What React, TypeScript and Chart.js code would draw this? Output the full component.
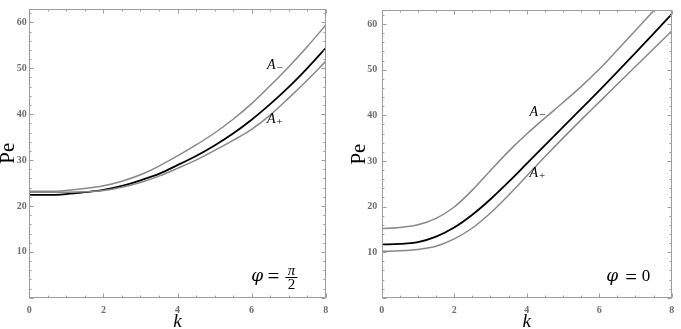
import React, { useEffect, useRef } from "react";
import { Chart, registerables } from "chart.js";

Chart.register(...registerables);

// ---- data ----
const kValues = [0, 0.5, 1, 1.5, 2, 2.5, 3, 3.5, 4, 4.5, 5, 5.5, 6, 6.5, 7, 7.5, 8];

// phi = pi/2 panel
const halfPiAMinus = [23.2, 23.2, 23.4, 23.8, 24.4, 25.4, 26.8, 28.7, 30.9, 33.3, 35.9, 38.9, 42.3, 46.2, 50.3, 54.7, 59.4];
const halfPiCenter = [22.4, 22.4, 22.6, 23.0, 23.5, 24.4, 25.6, 27.0, 28.9, 30.9, 33.2, 35.8, 38.8, 42.2, 45.9, 50.0, 54.4];
const halfPiAPlus = [23.0, 23.0, 23.0, 23.1, 23.4, 24.1, 25.1, 26.5, 28.2, 30.0, 32.1, 34.3, 36.7, 39.8, 43.5, 47.4, 51.5];

// phi = 0 panel
const zeroAMinus = [15.2, 15.4, 16.0, 17.4, 19.9, 23.6, 27.9, 32.1, 35.9, 39.4, 42.8, 46.3, 50.1, 54.3, 58.6, 62.9, 67.2];
const zeroCenter = [11.7, 11.8, 12.2, 13.4, 15.4, 18.2, 21.6, 25.4, 29.4, 33.4, 37.4, 41.4, 45.4, 49.5, 53.7, 57.9, 62.2];
const zeroAPlus = [10.2, 10.3, 10.6, 11.3, 12.9, 15.3, 18.6, 22.5, 26.7, 30.9, 35.0, 39.0, 42.9, 46.8, 50.7, 54.6, 58.5];

const xTickLabels = [0, 2, 4, 6, 8];
const yTickLabels = [10, 20, 30, 40, 50, 60];
const xRange = [0, 8];
const yRange = [0, 63];

const SERIF = '"Liberation Serif", "DejaVu Serif", serif';
const GREEK = '"DejaVu Serif", "Liberation Serif", serif';

type CurveLabel = { k: number; pe: number; sub: string };
type PanelProps = {
  left: number;
  width: number;
  plotLeft: number;
  plotRight: number;
  yLabelPad: number;
  yTitleCenter: number;
  aMinus: number[];
  center: number[];
  aPlus: number[];
  labels: CurveLabel[];
  eq: "half" | "zero";
  eqK: number;
  eqPe: number;
};

const HEIGHT = 329;
const PLOT_TOP = 2.7;
const PLOT_BOTTOM = 297.8;

function Panel(p: PanelProps) {
  const ref = useRef<HTMLCanvasElement | null>(null);
  useEffect(() => {
    const canvas = ref.current;
    if (!canvas) return;

    const framePlugin = {
      id: "frameAndNotes",
      afterDatasetsDraw(chart: any) {
        const { ctx, chartArea: a, scales } = chart;
        const xs = scales.x;
        const ys = scales.y;
        ctx.save();
        const L = Math.round(a.left) + 0.5;
        const R = Math.round(a.right) - 0.5;
        const T = Math.round(a.top) + 0.5;
        const B = Math.round(a.bottom) - 0.5;
        ctx.strokeStyle = "#9c9c9c";
        ctx.lineWidth = 1;
        ctx.strokeRect(L, T, R - L, B - T);
        ctx.beginPath();
        for (let v = xRange[0]; v <= xRange[1] + 1e-9; v += 0.5) {
          const major = Math.abs(v / 2 - Math.round(v / 2)) < 1e-9;
          const len = major ? 4 : 2;
          const px = Math.round(xs.getPixelForValue(v)) + 0.5;
          ctx.moveTo(px, B);
          ctx.lineTo(px, B - len);
          ctx.moveTo(px, T);
          ctx.lineTo(px, T + len);
        }
        for (let v = yRange[0]; v <= yRange[1] + 1e-9; v += 2) {
          const major = v % 10 === 0;
          const len = major ? 4 : 2;
          const py = Math.round(ys.getPixelForValue(v)) + 0.5;
          ctx.moveTo(L, py);
          ctx.lineTo(L + len, py);
          ctx.moveTo(R, py);
          ctx.lineTo(R - len, py);
        }
        ctx.stroke();

        // curve labels A-, A+
        ctx.fillStyle = "#000";
        ctx.textAlign = "left";
        ctx.textBaseline = "alphabetic";
        for (const lab of p.labels) {
          const px = xs.getPixelForValue(lab.k);
          const py = ys.getPixelForValue(lab.pe);
          ctx.font = `italic 14px ${SERIF}`;
          ctx.fillText("A", px - 8, py + 4.5);
          ctx.font = `11px ${SERIF}`;
          ctx.fillText(lab.sub, px + 1.5, py + 6.5);
        }

        // equation
        const cx = xs.getPixelForValue(p.eqK);
        const cy = ys.getPixelForValue(p.eqPe);
        ctx.textAlign = "center";
        ctx.font = `italic 17px ${GREEK}`;
        ctx.fillText("\u03c6", cx + (p.eq === "half" ? -16.3 : -19), cy + 3.3);
        ctx.font = `21px ${SERIF}`;
        ctx.fillText("=", cx, cy + 5.6);
        if (p.eq === "half") {
          const fx = cx + 18;
          ctx.font = `italic 15px ${SERIF}`;
          ctx.fillText("\u03c0", fx, cy - 2.5);
          ctx.font = `15px ${SERIF}`;
          ctx.fillText("2", fx, cy + 12);
          ctx.strokeStyle = "#000";
          ctx.lineWidth = 1;
          ctx.beginPath();
          ctx.moveTo(fx - 6, Math.round(cy) + 0.5);
          ctx.lineTo(fx + 6, Math.round(cy) + 0.5);
          ctx.stroke();
        } else {
          ctx.font = `17px ${SERIF}`;
          ctx.fillText("0", cx + 15, cy + 3);
        }
        ctx.restore();
      },
    };

    const mk = (vals: number[]) => kValues.map((k, i) => ({ x: k, y: vals[i] }));
    const tickFont = { family: SERIF, size: 10, weight: "bold" as const };

    const chart = new Chart(canvas, {
      type: "line",
      data: {
        datasets: [
          { data: mk(p.aMinus), borderColor: "#888888", borderWidth: 1.5 },
          { data: mk(p.aPlus), borderColor: "#888888", borderWidth: 1.5 },
          { data: mk(p.center), borderColor: "#000000", borderWidth: 1.8 },
        ].map((d) => ({
          ...d,
          pointRadius: 0,
          fill: false,
          cubicInterpolationMode: "monotone" as const,
        })),
      },
      options: {
        animation: false,
        responsive: false,
        maintainAspectRatio: false,
        layout: {
          padding: { left: 0, top: PLOT_TOP, right: p.width - p.plotRight, bottom: 0 },
        },
        plugins: { legend: { display: false }, tooltip: { enabled: false } },
        scales: {
          x: {
            type: "linear",
            min: xRange[0],
            max: xRange[1],
            afterBuildTicks: (s: any) => {
              s.ticks = xTickLabels.map((v) => ({ value: v }));
            },
            afterFit: (s: any) => {
              s.height = HEIGHT - PLOT_BOTTOM;
            },
            grid: { display: false, drawTicks: false, tickLength: 0 },
            border: { display: false },
            ticks: { font: tickFont, color: "#6e6e6e", padding: 6.8, maxRotation: 0, autoSkip: false },
            title: {
              display: true,
              text: "k",
              color: "#000",
              font: { family: SERIF, size: 19, style: "italic", lineHeight: 1.2 },
              padding: { top: 0, bottom: -4.4 },
            },
          },
          y: {
            type: "linear",
            min: yRange[0],
            max: yRange[1],
            afterBuildTicks: (s: any) => {
              s.ticks = yTickLabels.map((v) => ({ value: v }));
            },
            afterFit: (s: any) => {
              s.width = p.plotLeft;
            },
            grid: { display: false, drawTicks: false, tickLength: 0 },
            border: { display: false },
            ticks: { font: tickFont, color: "#6e6e6e", padding: p.yLabelPad, autoSkip: false },
            title: {
              display: true,
              text: "Pe",
              color: "#000",
              font: { family: SERIF, size: 21, lineHeight: 1.2 },
              padding: { top: p.yTitleCenter - 12.6, bottom: 0 },
            },
          },
        },
      },
      plugins: [framePlugin],
    });
    return () => chart.destroy();
  }, []);

  return (
    <canvas
      ref={ref}
      width={p.width}
      height={HEIGHT}
      style={{ position: "absolute", left: p.left, top: 0, width: p.width, height: HEIGHT }}
    />
  );
}

export default function App() {
  return (
    <div style={{ position: "absolute", left: 0, top: 0, width: 681, height: HEIGHT, background: "#fff" }}>
      <Panel
        left={0}
        width={340}
        plotLeft={29.3}
        plotRight={325.7}
        yLabelPad={2.6}
        yTitleCenter={8}
        aMinus={halfPiAMinus}
        center={halfPiCenter}
        aPlus={halfPiAPlus}
        labels={[
          { k: 6.63, pe: 50.8, sub: "\u2212" },
          { k: 6.63, pe: 39.1, sub: "+" },
        ]}
        eq="half"
        eqK={6.59}
        eqPe={4.44}
      />
      <Panel
        left={340}
        width={341}
        plotLeft={41.7}
        plotRight={338.3}
        yLabelPad={4.4}
        yTitleCenter={19}
        aMinus={zeroAMinus}
        center={zeroCenter}
        aPlus={zeroAPlus}
        labels={[
          { k: 4.3, pe: 40.8, sub: "\u2212" },
          { k: 4.3, pe: 27.5, sub: "+" },
        ]}
        eq="zero"
        eqK={6.88}
        eqPe={4.34}
      />
    </div>
  );
}
